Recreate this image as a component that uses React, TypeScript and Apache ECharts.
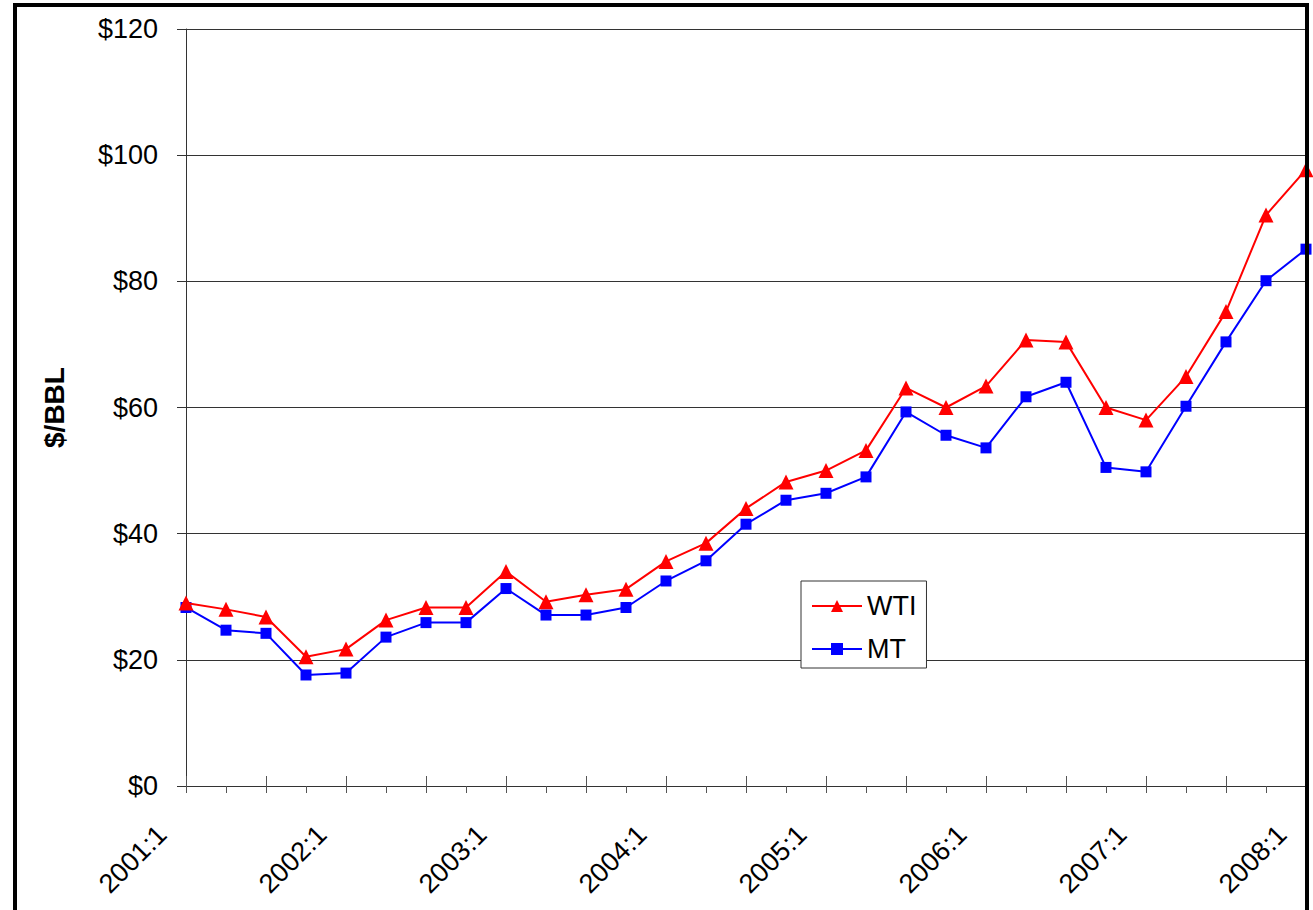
import React, { useEffect, useRef } from "react";
import * as echarts from "echarts";

const categories = [
  "2001:1", "2001:2", "2001:3", "2001:4",
  "2002:1", "2002:2", "2002:3", "2002:4",
  "2003:1", "2003:2", "2003:3", "2003:4",
  "2004:1", "2004:2", "2004:3", "2004:4",
  "2005:1", "2005:2", "2005:3", "2005:4",
  "2006:1", "2006:2", "2006:3", "2006:4",
  "2007:1", "2007:2", "2007:3", "2007:4",
  "2008:1",
];

const wti = [
  29.0, 28.0, 26.8, 20.5, 21.7, 26.3, 28.3, 28.3, 34.0, 29.2, 30.3, 31.2,
  35.6, 38.5, 44.0, 48.2, 50.0, 53.2, 63.1, 60.0, 63.4, 70.7, 70.4, 60.0,
  58.0, 64.9, 75.2, 90.5, 97.7,
];

const mt = [
  28.3, 24.7, 24.2, 17.6, 17.9, 23.6, 25.9, 25.9, 31.3, 27.1, 27.1, 28.3,
  32.5, 35.7, 41.5, 45.3, 46.4, 49.0, 59.3, 55.6, 53.6, 61.7, 64.0, 50.5,
  49.8, 60.2, 70.4, 80.1, 85.1,
];

const FONT = "'Liberation Sans', Arial, sans-serif";

export default function App() {
  const ref = useRef<HTMLDivElement>(null);

  useEffect(() => {
    if (!ref.current) return;
    const chart = echarts.init(ref.current, null, { renderer: "svg" });
    chart.setOption({
      animation: false,
      backgroundColor: "#ffffff",
      textStyle: { fontFamily: FONT },
      grid: { left: 186, right: 7, top: 29, bottom: 124 },
      legend: {
        left: 801,
        top: 581,
        orient: "vertical",
        backgroundColor: "#ffffff",
        borderColor: "#333333",
        borderWidth: 1,
        borderRadius: 0,
        padding: [10, 10, 4, 10],
        itemWidth: 50,
        itemHeight: 15,
        itemGap: 13,
        textStyle: { fontSize: 27, color: "#000", fontFamily: FONT, lineHeight: 30 },
        data: ["WTI", "MT"],
      },
      xAxis: [
        {
          type: "category",
          data: categories,
          boundaryGap: false,
          axisLine: { show: true, lineStyle: { color: "#333", width: 1 } },
          axisTick: { show: true, interval: 0, length: 7, lineStyle: { color: "#555" } },
          axisLabel: {
            interval: 3,
            rotate: 45,
            fontSize: 27,
            color: "#000",
            fontFamily: FONT,
            margin: 20,
            padding: [0, 34, 0, 0],
          },
          splitLine: { show: false },
        },
        {
          type: "category",
          data: categories,
          boundaryGap: false,
          position: "bottom",
          axisLine: { show: false },
          axisTick: { show: true, inside: true, interval: 1, length: 10, lineStyle: { color: "#555" } },
          axisLabel: { show: false },
          splitLine: { show: false },
        },
      ],
      yAxis: {
        type: "value",
        min: 0,
        max: 120,
        interval: 20,
        name: "$/BBL",
        nameLocation: "middle",
        nameRotate: 90,
        nameGap: 118,
        nameTextStyle: { fontSize: 28, fontWeight: "bold", color: "#000", fontFamily: FONT },
        axisLine: { show: true, lineStyle: { color: "#333", width: 1 } },
        axisTick: { show: true, length: 9, lineStyle: { color: "#333" } },
        axisLabel: {
          fontSize: 27,
          color: "#000",
          fontFamily: FONT,
          margin: 28,
          formatter: (v: number) => "$" + v,
        },
        splitLine: { show: true, lineStyle: { color: "#333", width: 1 } },
      },
      series: [
        {
          name: "WTI",
          type: "line",
          xAxisIndex: 0,
          data: wti,
          symbol: "triangle",
          symbolSize: 15,
          showAllSymbol: true,
          lineStyle: { color: "#ff0000", width: 2 },
          itemStyle: { color: "#ff0000" },
          z: 3,
        },
        {
          name: "MT",
          type: "line",
          xAxisIndex: 0,
          data: mt,
          symbol: "rect",
          symbolSize: 11,
          showAllSymbol: true,
          lineStyle: { color: "#0000ff", width: 2 },
          itemStyle: { color: "#0000ff" },
          z: 2,
        },
      ],
      graphic: [
        {
          type: "rect",
          z: 100,
          shape: { x: 15, y: 5, width: 1292, height: 1000 },
          style: { fill: "none", stroke: "#000", lineWidth: 4 },
          silent: true,
        },
      ],
    });
    return () => chart.dispose();
  }, []);

  return (
    <div
      ref={ref}
      style={{ position: "absolute", left: 0, top: 0, width: 1313, height: 910 }}
    />
  );
}
